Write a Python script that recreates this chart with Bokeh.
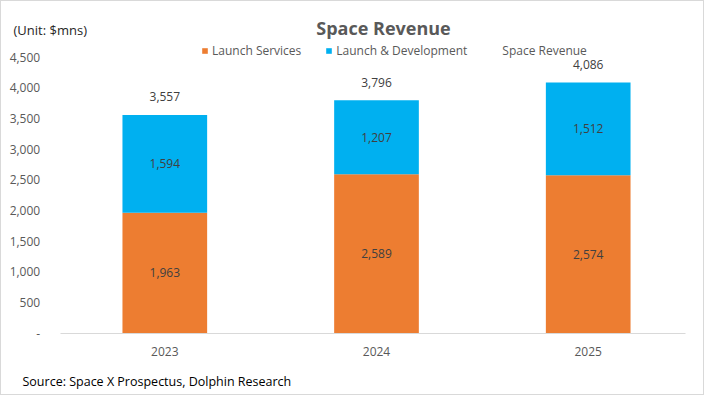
from bokeh.plotting import figure
from bokeh.models import (Range1d, FixedTicker, NumeralTickFormatter,
                          Label, Legend, LegendItem, ColumnDataSource)
from bokeh.core.properties import value
from bokeh.embed import file_html
from bokeh.resources import INLINE

years = ["2023", "2024", "2025"]
launch_services = [1963, 2589, 2574]
launch_dev = [1594, 1207, 1512]
totals = [3557, 3796, 4086]
y_ticks = [0, 500, 1000, 1500, 2000, 2500, 3000, 3500, 4000, 4500]

FONT = "Open Sans"
ORANGE = "#ED7D31"
BLUE = "#00B0F0"
GREY = "#595959"

xs = list(range(len(years)))
src = ColumnDataSource(dict(
    x=xs, ls=launch_services, ld=launch_dev, tot=totals,
    ls_mid=[v / 2 for v in launch_services],
    ld_mid=[a + b / 2 for a, b in zip(launch_services, launch_dev)],
    ls_txt=[f"{v:,}" for v in launch_services],
    ld_txt=[f"{v:,}" for v in launch_dev],
    tot_txt=[f"{v:,}" for v in totals],
))

W, H = 704, 395
p = figure(width=W, height=H, x_range=Range1d(-0.7714, 2.5541),
           y_range=Range1d(-1034, 5408), output_backend="svg", toolbar_location=None,
           min_border=0)
p.title.visible = False
p.outline_line_color = None
p.grid.visible = False
p.background_fill_color = "white"
p.border_fill_color = "white"
p.styles = {"border": "1px solid #d9d9d9"}

rs = p.vbar_stack(["ls", "ld"], x="x", width=0.4, source=src,
                  color=[ORANGE, BLUE], line_color=None)
ghost = p.line(x="x", y="tot", source=src, line_alpha=0)

for ycol, tcol, off in (("ls_mid", "ls_txt", 0), ("ld_mid", "ld_txt", 0), ("tot", "tot_txt", -18)):
    p.text(x="x", y=ycol, text=tcol, source=src, text_align="center", text_baseline="middle",
           y_offset=off, text_font=value(FONT), text_font_size="12px", text_color="#404040")

# y axis (drawn inside the frame at a fixed spot)
yax = p.yaxis[0]
yax.fixed_location = -0.4941
yax.ticker = FixedTicker(ticks=y_ticks)
yax.formatter = NumeralTickFormatter(format="0,0")
yax.major_label_overrides = {0: "-"}
yax.axis_line_color = None
yax.major_tick_line_color = None
yax.minor_tick_line_color = None
yax.major_label_standoff = 14
yax.major_label_text_font = FONT
yax.major_label_text_font_size = "12px"
yax.major_label_text_color = GREY

# x axis at y = 0
xax = p.xaxis[0]
xax.fixed_location = 0
xax.bounds = (-0.4941, 2.4616)
xax.ticker = FixedTicker(ticks=xs)
xax.major_label_overrides = {i: y for i, y in zip(xs, years)}
xax.axis_line_color = "#d9d9d9"
xax.axis_line_width = 1
xax.major_tick_line_color = None
xax.minor_tick_line_color = None
xax.major_label_standoff = 8
xax.major_label_text_font = FONT
xax.major_label_text_font_size = "12px"
xax.major_label_text_color = GREY

legend = Legend(items=[LegendItem(label="Launch Services", renderers=[rs[0]]),
                       LegendItem(label="Launch & Development", renderers=[rs[1]]),
                       LegendItem(label="Space Revenue", renderers=[ghost])],
                orientation="horizontal", location=(200, 337), padding=0, margin=0,
                spacing=24, glyph_width=7, glyph_height=7, label_standoff=4,
                label_text_font=FONT, label_text_font_size="12px", label_text_color=GREY,
                border_line_color=None, background_fill_alpha=0)
p.add_layout(legend, "center")

p.add_layout(Label(x=382, y=369, x_units="screen", y_units="screen", text="Space Revenue",
                   text_align="center", text_baseline="middle", text_font=FONT,
                   text_font_style="bold", text_font_size="18px", text_color=GREY))
p.add_layout(Label(x=12, y=367, x_units="screen", y_units="screen", text="(Unit: $mns)",
                   text_align="left", text_baseline="middle", text_font=FONT,
                   text_font_size="13px", text_color="#262626"))
p.add_layout(Label(x=21, y=15, x_units="screen", y_units="screen",
                   text="Source: Space X Prospectus, Dolphin Research",
                   text_align="left", text_baseline="middle", text_font=FONT,
                   text_font_size="12.5px", text_color="#000000"))

open("out.html", "w").write(file_html(p, INLINE))
